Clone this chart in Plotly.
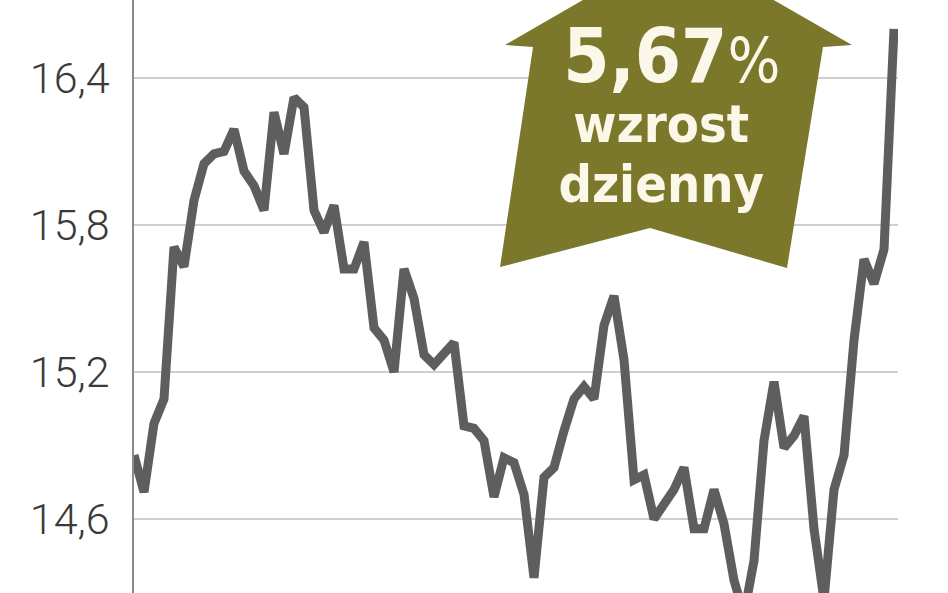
import plotly.graph_objects as go

# ---- data ----
days = list(range(77))
prices = [14.86, 14.71, 14.99, 15.09, 15.71, 15.63, 15.90, 16.05, 16.09, 16.10,
          16.19, 16.02, 15.96, 15.86, 16.26, 16.09, 16.32, 16.28, 15.86, 15.77,
          15.88, 15.62, 15.62, 15.73, 15.38, 15.33, 15.20, 15.62, 15.50, 15.27,
          15.23, 15.28, 15.32, 14.98, 14.97, 14.92, 14.69, 14.85, 14.83, 14.70,
          14.36, 14.77, 14.81, 14.96, 15.09, 15.14, 15.09, 15.39, 15.51, 15.25,
          14.76, 14.78, 14.60, 14.66, 14.72, 14.81, 14.56, 14.56, 14.72, 14.58,
          14.35, 14.21, 14.43, 14.92, 15.16, 14.89, 14.94, 15.02, 14.56, 14.27,
          14.72, 14.86, 15.33, 15.66, 15.56, 15.70, 16.60]
tick_vals = [14.6, 15.2, 15.8, 16.4]
tick_text = ["14,6", "15,2", "15,8", "16,4"]
badge_lines = ["5,67", "%", "wzrost", "dzienny"]

W, H = 948, 593
L, R, T, B = 134, 50, 0, 0
PW, PH = W - L - R, H - T - B

def px(x, y):
    return ((x - L) / PW, 1 - (y - T) / PH)

fig = go.Figure()
fig.add_trace(go.Scatter(x=days, y=prices, mode="lines",
                         line=dict(color="#5e5e5e", width=9, shape="linear"),
                         hoverinfo="skip"))

# arrow badge
verts = [(678, -55), (852, 45), (823, 47), (787, 268), (650, 228),
         (500, 267), (533, 47), (505, 45)]
path = "M " + " L ".join(f"{px(x, y)[0]:.4f},{px(x, y)[1]:.4f}" for x, y in verts) + " Z"
fig.add_shape(type="path", path=path, xref="paper", yref="paper",
              fillcolor="#7b782b", line=dict(width=0), layer="above")

txt_color = "#fbf8ea"
font_fam = "DejaVu Sans Condensed"
badge_text = (
    "<span style='font-size:74px'>&nbsp;<b>" + badge_lines[0] + "</b></span>"
    "<span style='font-size:62px'>" + badge_lines[1] + "</span><br>"
    "<span style='font-size:52px'><b>" + badge_lines[2] + "</b></span><br>"
    "<span style='font-size:52px'><b>" + badge_lines[3] + "</b></span>"
)
bx, by = px(661, 114)
fig.add_annotation(x=bx, y=by, xref="paper", yref="paper", showarrow=False,
                   xanchor="center", yanchor="middle", align="center",
                   text=badge_text,
                   font=dict(family=font_fam, size=46, color=txt_color))

fig.update_layout(
    width=W, height=H,
    margin=dict(l=L, r=R, t=T, b=B, autoexpand=False),
    paper_bgcolor="white", plot_bgcolor="white",
    showlegend=False,
    xaxis=dict(range=[0, 76.4], showgrid=False, zeroline=False, automargin=False,
               showticklabels=False, showline=False, ticks=""),
    yaxis=dict(range=[14.298, 16.718], tickvals=tick_vals, ticktext=tick_text,
               automargin=False,
               showgrid=True, gridcolor="#cfcfcf", gridwidth=1.5,
               zeroline=False, showline=True, linecolor="#8a8a8a", linewidth=1.5,
               ticks="", ticklabelstandoff=14,
               tickfont=dict(family="Roboto", size=43, color="#3a3a3a", weight=300)),
)

fig.write_html("out.html", config={"displayModeBar": False},
               post_script="document.body.style.margin='0';document.body.style.overflow='hidden';")
